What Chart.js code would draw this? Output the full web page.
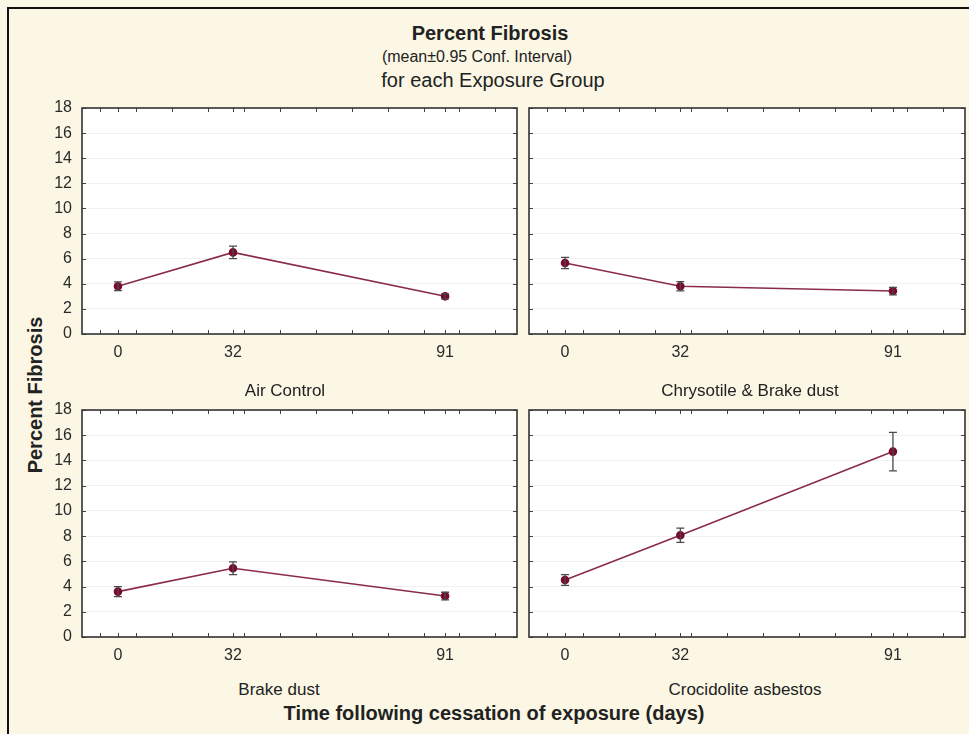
<!DOCTYPE html>
<html>
<head>
<meta charset="utf-8">
<script src="https://cdn.jsdelivr.net/npm/chart.js@4/dist/chart.umd.min.js"></script>
<style>
  html, body { margin: 0; padding: 0; }
  body { width: 969px; height: 734px; background: #fbf7e4; position: relative; overflow: hidden;
         font-family: "Liberation Sans", Arial, sans-serif; color: #222; }
  #frame { position: absolute; left: 7px; top: 7px; width: 980px; height: 760px; border: 2px solid #111; }
  .txt { position: absolute; transform: translate(-50%, -50%); white-space: nowrap; line-height: 1; }
  .box { position: absolute; }
</style>
</head>
<body>
<div id="frame"></div>
<div class="txt" style="left:490px;top:33px;font-size:20px;font-weight:bold;">Percent Fibrosis</div>
<div class="txt" style="left:477px;top:57px;font-size:16px;">(mean±0.95 Conf. Interval)</div>
<div class="txt" style="left:493px;top:80px;font-size:20px;">for each Exposure Group</div>
<div class="txt" style="left:35px;top:395px;font-size:20px;font-weight:bold;transform:translate(-50%,-50%) rotate(-90deg);">Percent Fibrosis</div>
<div class="txt" style="left:494px;top:713px;font-size:20px;font-weight:bold;">Time following cessation of exposure (days)</div>

<div class="box" id="p0"><canvas id="c0"></canvas></div>
<div class="box" id="p1"><canvas id="c1"></canvas></div>
<div class="box" id="p2"><canvas id="c2"></canvas></div>
<div class="box" id="p3"><canvas id="c3"></canvas></div>

<script>
// categories / tick labels
const days = [0, 32, 91];
const groups = ['Air Control', 'Chrysotile & Brake dust', 'Brake dust', 'Crocidolite asbestos'];
const minorTicks = [-5, 5, 15, 25, 35, 45, 55, 65, 75, 85, 95, 105];

// series values (mean and half-width of 0.95 CI)
const airMean = [3.8, 6.5, 3.0];
const airCI = [0.35, 0.5, 0.2];
const chrysMean = [5.65, 3.8, 3.42];
const chrysCI = [0.45, 0.37, 0.3];
const brakeMean = [3.6, 5.45, 3.25];
const brakeCI = [0.4, 0.5, 0.3];
const crocMean = [4.52, 8.07, 14.7];
const crocCI = [0.42, 0.57, 1.52];

const means = [airMean, chrysMean, brakeMean, crocMean];
const cis = [airCI, chrysCI, brakeCI, crocCI];

// plot area of each panel: left, top, width, height
const panels = [
  { left: 82, top: 108, w: 435, h: 226, yLabels: true },
  { left: 529, top: 108, w: 436, h: 226, yLabels: false },
  { left: 82, top: 410, w: 435, h: 227, yLabels: true },
  { left: 529, top: 410, w: 436, h: 227, yLabels: false }
];
const captions = [[285, 390], [750, 390], [279, 689], [745, 689]];

const framePlugin = {
  id: 'frame',
  afterDatasetsDraw(chart) {
    const ctx = chart.ctx;
    const a = chart.chartArea;
    const x = chart.scales.x, y = chart.scales.y;
    ctx.save();
    // error bars
    const ds = chart.data.datasets[0];
    ctx.strokeStyle = '#4a4a4a';
    ctx.lineWidth = 1.3;
    ds.data.forEach(function(p, i) {
      const px = x.getPixelForValue(p.x);
      const hi = y.getPixelForValue(p.y + ds.ci[i]);
      const lo = y.getPixelForValue(p.y - ds.ci[i]);
      ctx.beginPath();
      ctx.moveTo(px, hi); ctx.lineTo(px, lo);
      ctx.moveTo(px - 4, hi); ctx.lineTo(px + 4, hi);
      ctx.moveTo(px - 4, lo); ctx.lineTo(px + 4, lo);
      ctx.stroke();
    });
    // inward ticks
    ctx.strokeStyle = '#444';
    ctx.lineWidth = 1;
    ctx.beginPath();
    minorTicks.concat(days).forEach(function(v) {
      const px = Math.round(x.getPixelForValue(v)) + 0.5;
      ctx.moveTo(px, a.bottom); ctx.lineTo(px, a.bottom - 4);
      ctx.moveTo(px, a.top); ctx.lineTo(px, a.top + 4);
    });
    y.ticks.forEach(function(t) {
      const py = Math.round(y.getPixelForValue(t.value)) + 0.5;
      ctx.moveTo(a.left, py); ctx.lineTo(a.left + 4, py);
      ctx.moveTo(a.right, py); ctx.lineTo(a.right - 4, py);
    });
    ctx.stroke();
    // plot frame
    ctx.strokeStyle = '#333';
    ctx.lineWidth = 1.6;
    ctx.strokeRect(a.left, a.top, a.right - a.left, a.bottom - a.top);
    ctx.restore();
  }
};

const bgPlugin = {
  id: 'bg',
  beforeDraw(chart) {
    const a = chart.chartArea;
    chart.ctx.save();
    chart.ctx.fillStyle = '#ffffff';
    chart.ctx.fillRect(a.left, a.top, a.right - a.left, a.bottom - a.top);
    chart.ctx.restore();
  }
};

panels.forEach(function(p, k) {
  const yW = p.yLabels ? 44 : 0;
  const padL = p.yLabels ? 0 : 6;
  const box = document.getElementById('p' + k);
  box.style.left = (p.left - yW - padL) + 'px';
  box.style.top = (p.top - 12) + 'px';
  box.style.width = (yW + padL + p.w + 6) + 'px';
  box.style.height = (12 + p.h + 30) + 'px';

  const cap = document.createElement('div');
  cap.className = 'txt';
  cap.style.left = captions[k][0] + 'px';
  cap.style.top = captions[k][1] + 'px';
  cap.style.fontSize = '17px';
  cap.textContent = groups[k];
  document.body.appendChild(cap);

  const pts = days.map(function(d, i) { return { x: d, y: means[k][i] }; });

  new Chart(document.getElementById('c' + k), {
    type: 'line',
    data: {
      datasets: [{
        label: groups[k],
        data: pts,
        ci: cis[k],
        borderColor: '#8a2c48',
        borderWidth: 1.6,
        pointBackgroundColor: '#7a0a2c',
        pointBorderColor: '#7a0a2c',
        pointRadius: 3.5,
        tension: 0
      }]
    },
    options: {
      responsive: true,
      maintainAspectRatio: false,
      animation: false,
      layout: { padding: { top: 12, right: 6, left: padL, bottom: 0 } },
      plugins: { legend: { display: false }, tooltip: { enabled: false } },
      scales: {
        x: {
          type: 'linear',
          min: -10, max: 111,
          grid: { display: false, drawTicks: false },
          border: { display: false },
          afterBuildTicks: function(s) { s.ticks = days.map(function(d) { return { value: d }; }); },
          afterFit: function(s) { s.height = 30; s.paddingLeft = 0; s.paddingRight = 0; },
          ticks: { padding: 9, color: '#2a2a2a', font: { family: 'Liberation Sans', size: 16 }, maxRotation: 0 }
        },
        y: {
          min: 0, max: 18,
          grid: { color: '#f1f1f1', drawTicks: false, lineWidth: 1 },
          border: { display: false },
          afterFit: function(s) { s.width = yW; s.paddingTop = 0; s.paddingBottom = 0; },
          ticks: { display: p.yLabels, stepSize: 2, padding: 10, color: '#2a2a2a', font: { family: 'Liberation Sans', size: 16 } }
        }
      }
    },
    plugins: [bgPlugin, framePlugin]
  });
});
</script>
</body>
</html>
